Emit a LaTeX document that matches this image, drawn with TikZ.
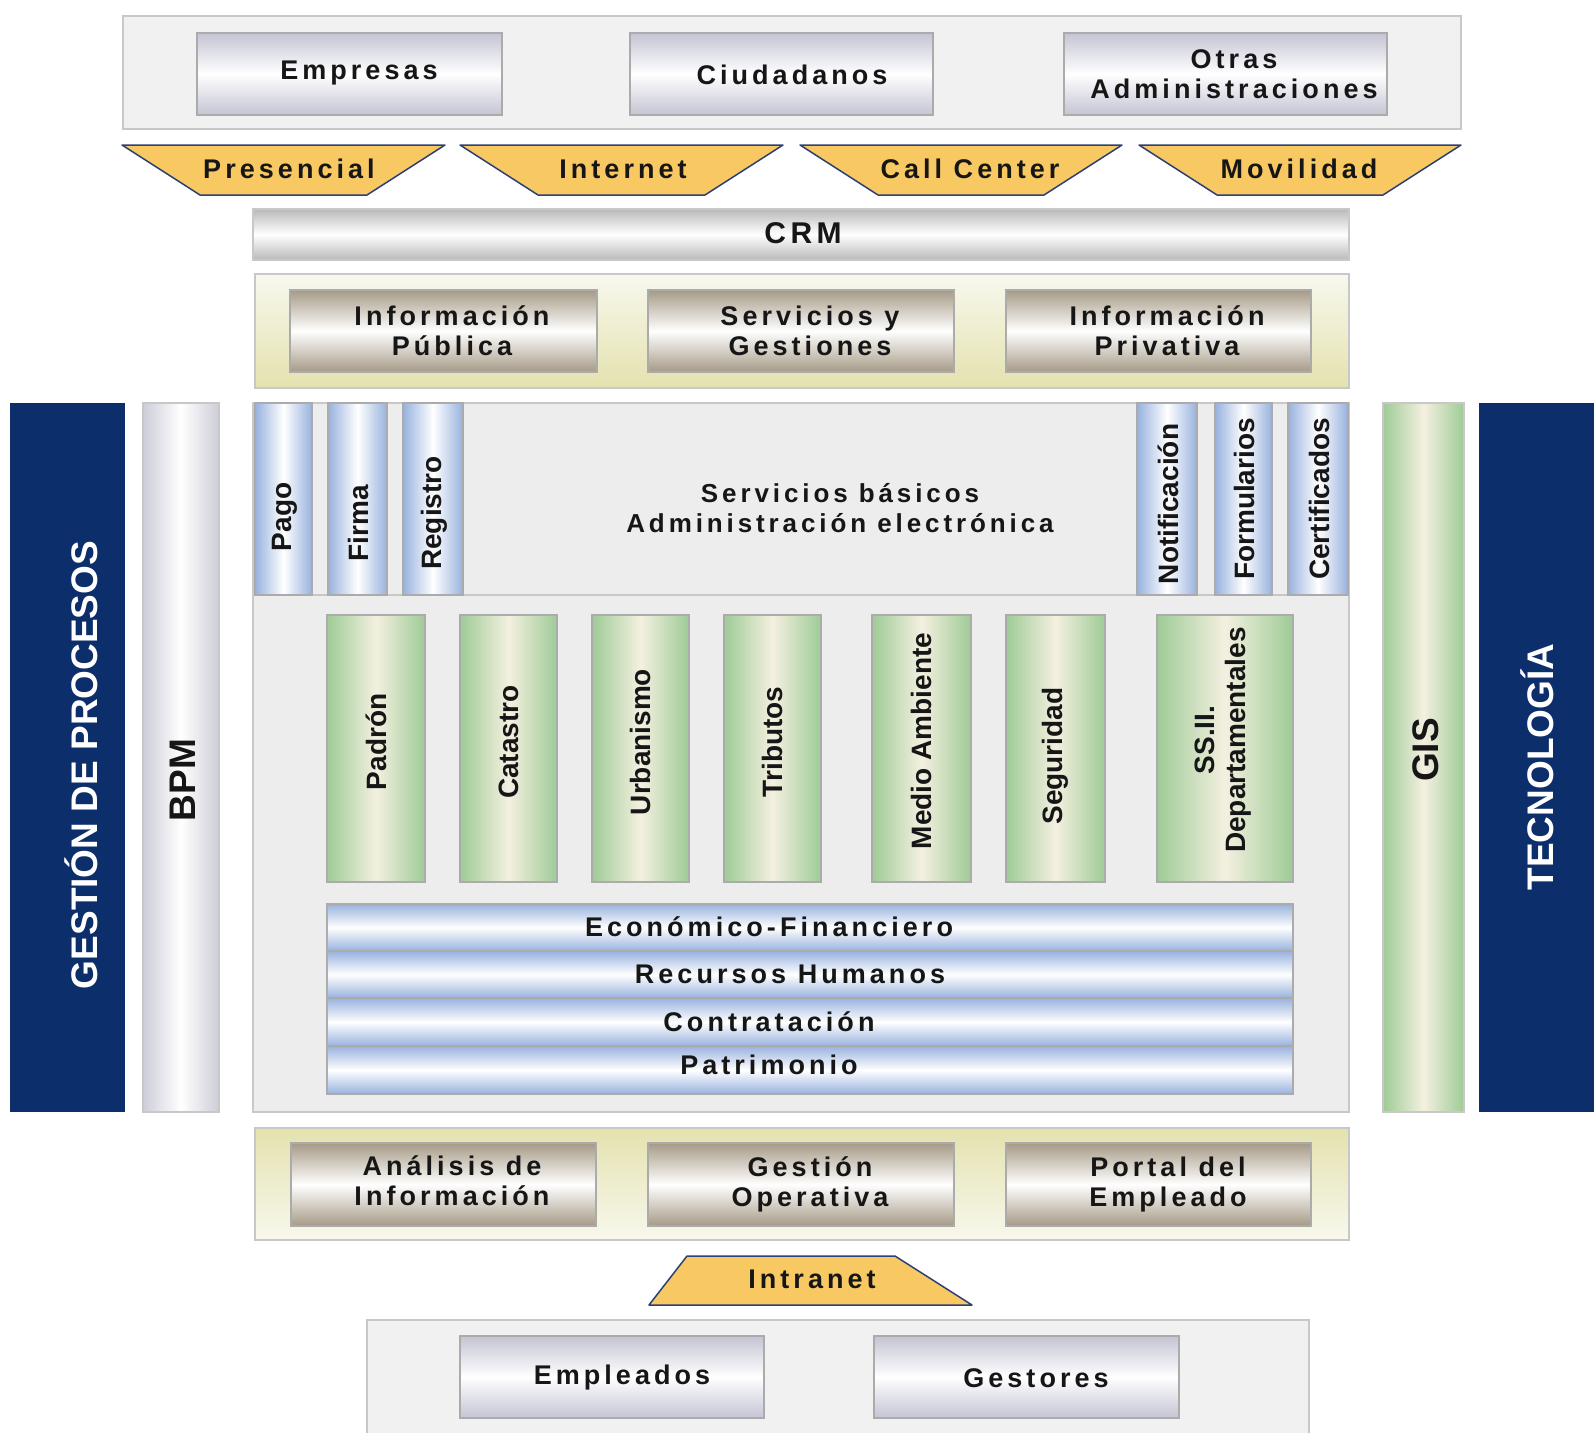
\documentclass[tikz,border=0pt]{standalone}
\usepackage{fontspec}
\setmainfont{Liberation Sans}
\newfontfamily\spc[LetterSpace=15]{Liberation Sans}
\definecolor{panelfill}{HTML}{F1F1F1}
\definecolor{panelline}{HTML}{C8C8C8}
\definecolor{boxline}{HTML}{ABABAB}
\definecolor{lav}{HTML}{C4C4D4}
\definecolor{gold}{HTML}{F8C862}
\definecolor{trapline}{HTML}{2C4078}
\definecolor{crmgray}{HTML}{B9B9B9}
\definecolor{creamtop}{HTML}{F8F8EE}
\definecolor{creambot}{HTML}{E4E2AE}
\definecolor{brown}{HTML}{A69A86}
\definecolor{mainfill}{HTML}{EDEDED}
\definecolor{lightblue}{HTML}{98B2DE}
\definecolor{green}{HTML}{9ECB96}
\definecolor{cream}{HTML}{F4F0E0}
\definecolor{navy}{HTML}{0C2E6B}
\definecolor{bpmgray}{HTML}{CDCDD8}
\definecolor{ink}{HTML}{161616}
\begin{document}
\begin{tikzpicture}[x=1pt,y=-1pt,
  panel/.style={draw=panelline, line width=1.5pt, fill=panelfill},
  sp/.style={font=\spc\bfseries\fontsize{27}{30}\selectfont, text=ink, align=center},
  rl/.style={font=\bfseries\fontsize{28}{31}\selectfont, text=ink, rotate=90, align=center},
  big/.style={font=\bfseries\fontsize{37}{40}\selectfont, rotate=90},
  whitebox/.style={draw=boxline, line width=2.5pt, inner sep=0pt, top color=lav, bottom color=lav, middle color=white},
  brownbox/.style={draw=boxline, line width=2.5pt, inner sep=0pt, top color=brown, bottom color=brown, middle color=white},
  bluecol/.style={draw=boxline, line width=2pt, inner sep=0pt, left color=lightblue, right color=lightblue, middle color=white},
  greencol/.style={draw=boxline, line width=2.5pt, inner sep=0pt, left color=green, right color=green, middle color=cream},
  hbar/.style={draw=boxline, line width=2pt, inner sep=0pt, top color=lightblue, bottom color=lightblue, middle color=white},
  trap/.style={draw=trapline, line width=1.5pt, fill=gold, line join=round},
  navybox/.style={fill=navy, inner sep=0pt}
]
\useasboundingbox (0,0) rectangle (1594,1432);

% ---------- top panel ----------
\node[panel, minimum width=1338, minimum height=113, inner sep=0pt] (toppanel) at (792,72.5) {};
\node[whitebox, minimum width=305, minimum height=82] (empresas) at (349.5,74) {};
\node[sp] (empresast) at (359,73) {Empresas};
\node[whitebox, minimum width=303, minimum height=82] (ciudadanos) at (781.5,74) {};
\node[sp] (ciudadanost) at (792,75) {Ciudadanos};
\node[whitebox, minimum width=323, minimum height=82] (otras) at (1225.5,74) {};
\node[sp] (otrast) at (1234,74) {Otras\\Administraciones};

% ---------- channels ----------
\draw[trap] (122,145) -- (445,145) -- (367,195) -- (200,195) -- cycle;
\node[sp] (presencial) at (289,169) {Presencial};
\draw[trap] (460,145) -- (783,145) -- (705,195) -- (538,195) -- cycle;
\node[sp] (internet) at (623,169) {Internet};
\draw[trap] (800,145) -- (1122,145) -- (1044,195) -- (878,195) -- cycle;
\node[sp] (callcenter) at (970,169) {Call Center};
\draw[trap] (1139,145) -- (1461,145) -- (1383,195) -- (1217,195) -- cycle;
\node[sp] (movilidad) at (1299,169) {Movilidad};

% ---------- CRM ----------
\node[draw=panelline, line width=2pt, inner sep=0pt, top color=crmgray, bottom color=crmgray, middle color=white,
      minimum width=1096, minimum height=51] (crm) at (801,234.5) {};
\node[font=\spc\bfseries\fontsize{30}{32}\selectfont, text=ink] (crmt) at (803,233) {CRM};

% ---------- information band ----------
\node[draw=panelline, line width=1.5pt, inner sep=0pt, top color=creamtop, bottom color=creambot,
      minimum width=1094, minimum height=114] (infoband) at (802,331) {};
\node[brownbox, minimum width=307, minimum height=82] (infopub) at (443.5,331) {};
\node[sp] (infopubt) at (452,331) {Información\\Pública};
\node[brownbox, minimum width=306, minimum height=82] (servges) at (801,331) {};
\node[sp] (servgest) at (810,331) {Servicios y\\Gestiones};
\node[brownbox, minimum width=305, minimum height=82] (infopriv) at (1158.5,331) {};
\node[sp] (infoprivt) at (1167,331) {Información\\Privativa};

% ---------- side panels ----------
\node[navybox, minimum width=115, minimum height=709] (gestion) at (67.5,757.5) {};
\node[big, text=white] (gestiont) at (81,765) {GESTIÓN DE PROCESOS};
\node[draw=panelline, line width=2pt, inner sep=0pt, left color=bpmgray, right color=bpmgray, middle color=white,
      minimum width=76, minimum height=709] (bpm) at (181,757.5) {};
\node[big, text=ink] (bpmt) at (183,780) {BPM};
\node[draw=panelline, line width=2pt, inner sep=0pt, left color=green, right color=green, middle color=cream,
      minimum width=81, minimum height=709] (gis) at (1423.5,757.5) {};
\node[big, text=ink] (gist) at (1426,750) {GIS};
\node[navybox, minimum width=115, minimum height=709] (tecno) at (1536.5,757.5) {};
\node[big, text=white] (tecnot) at (1537,767) {TECNOLOGÍA};

% ---------- main area ----------
\node[draw=panelline, line width=2pt, fill=mainfill, inner sep=0pt, minimum width=1096, minimum height=517] (lower) at (801,853.5) {};
\node[draw=panelline, line width=2pt, fill=mainfill, inner sep=0pt, minimum width=1096, minimum height=192] (upper) at (801,499) {};
\node[sp, font=\spc\bfseries\fontsize{26}{30}\selectfont] (basicos) at (840,508) {Servicios básicos\\Administración electrónica};

\node[bluecol, minimum width=57, minimum height=192] (pago) at (283.5,499) {};
\node[rl] (pagot) at (285,517) {Pago};
\node[bluecol, minimum width=59, minimum height=192] (firma) at (357.5,499) {};
\node[rl] (firmat) at (358,523) {Firma};
\node[bluecol, minimum width=60, minimum height=192] (registro) at (433,499) {};
\node[rl] (registrot) at (434,513) {Registro};
\node[bluecol, minimum width=60, minimum height=192] (notif) at (1167,499) {};
\node[rl] (notift) at (1168,504) {Notificación};
\node[bluecol, minimum width=57, minimum height=192] (form) at (1243.5,499) {};
\node[rl] (formt) at (1244,499) {Formularios};
\node[bluecol, minimum width=60, minimum height=192] (cert) at (1318,499) {};
\node[rl] (certt) at (1319,499) {Certificados};

% green columns
\node[greencol, minimum width=98, minimum height=267] (padron) at (376,748.5) {};
\node[rl] (padront) at (376,742) {Padrón};
\node[greencol, minimum width=97, minimum height=267] (catastro) at (508.5,748.5) {};
\node[rl] (catastrot) at (508.5,742) {Catastro};
\node[greencol, minimum width=97, minimum height=267] (urbanismo) at (640.5,748.5) {};
\node[rl] (urbanismot) at (640.5,742) {Urbanismo};
\node[greencol, minimum width=97, minimum height=267] (tributos) at (772.5,748.5) {};
\node[rl] (tributost) at (772.5,742) {Tributos};
\node[greencol, minimum width=99, minimum height=267] (medio) at (921.5,748.5) {};
\node[rl] (mediot) at (921.5,741) {Medio Ambiente};
\node[greencol, minimum width=99, minimum height=267] (seguridad) at (1055.5,748.5) {};
\node[rl] (seguridadt) at (1055.5,756) {Seguridad};
\node[greencol, minimum width=136, minimum height=267] (ssii) at (1225,748.5) {};
\node[rl] (ssiit) at (1223,740) {SS.II.\\Departamentales};

% horizontal bars
\node[hbar, minimum width=966, minimum height=47] (econ) at (810,927.5) {};
\node[sp] (econt) at (769,927) {Económico-Financiero};
\node[hbar, minimum width=966, minimum height=47] (rrhh) at (810,974.5) {};
\node[sp] (rrhht) at (790,974) {Recursos Humanos};
\node[hbar, minimum width=966, minimum height=48] (contr) at (810,1022) {};
\node[sp] (contrt) at (769,1022) {Contratación};
\node[hbar, minimum width=966, minimum height=48] (patr) at (810,1070) {};
\node[sp] (patrt) at (769,1065) {Patrimonio};

% ---------- bottom band ----------
\node[draw=panelline, line width=1.5pt, inner sep=0pt, top color=creambot, bottom color=creamtop,
      minimum width=1094, minimum height=112] (intband) at (802,1184) {};
\node[brownbox, minimum width=305, minimum height=83] (analisis) at (443.5,1184.5) {};
\node[sp] (analisist) at (452,1181) {Análisis de\\Información};
\node[brownbox, minimum width=306, minimum height=83] (gestop) at (801,1184.5) {};
\node[sp] (gestopt) at (810,1184) {Gestión\\Operativa};
\node[brownbox, minimum width=305, minimum height=83] (portal) at (1158.5,1184.5) {};
\node[sp] (portalt) at (1168,1184) {Portal del\\Empleado};

\draw[trap] (687,1256) -- (895,1256) -- (972,1305) -- (649,1305) -- cycle;
\node[sp] (intranet) at (812,1279) {Intranet};

% ---------- bottom panel ----------
\node[panel, minimum width=942, minimum height=120, inner sep=0pt] (botpanel) at (838,1380) {};
\node[whitebox, minimum width=304, minimum height=82] (empleados) at (612,1377) {};
\node[sp] (empleadost) at (622,1377) {Empleados};
\node[whitebox, minimum width=305, minimum height=82] (gestores) at (1026.5,1377) {};
\node[sp] (gestorest) at (1036,1378) {Gestores};
\end{tikzpicture}
\end{document}
